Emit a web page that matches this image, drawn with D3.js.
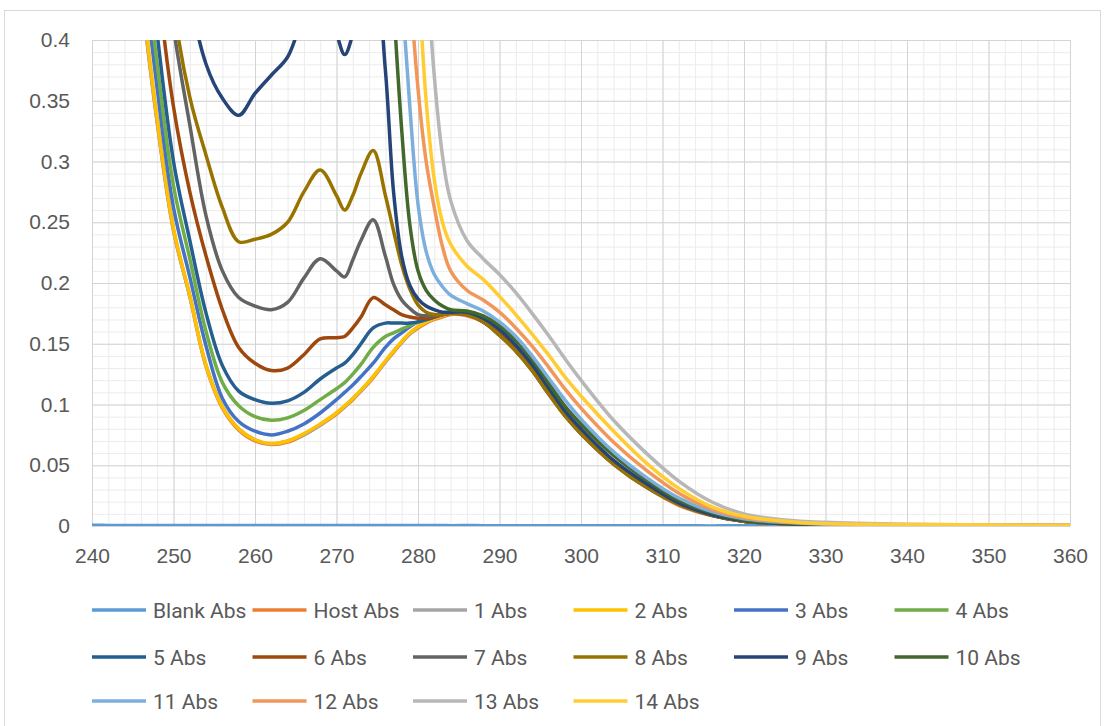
<!DOCTYPE html>
<html>
<head>
<meta charset="utf-8">
<script src="https://cdn.jsdelivr.net/npm/d3@7"></script>
<style>
  html, body { margin: 0; padding: 0; background: #fff; }
  svg { display: block; font-family: Roboto, "Liberation Sans", sans-serif; }
  .tick text { fill: #595959; font-size: 21px; }
</style>
</head>
<body>
<svg id="svg" width="1105" height="726"></svg>
<script>
// wavelengths (nm) shared by every series
const wavelengths = [
  240, 242, 244, 246, 248, 250, 252, 254, 256, 258, 260, 262, 264, 266, 268, 270,
  271, 272, 273, 274.5, 276, 277, 278, 279, 280, 281, 282, 283, 284,
  286, 288, 290, 292, 294, 296, 298, 300,
  304, 308, 312, 316, 320,
  325, 330, 340, 350, 360
];

const blankAbs = [
  0.0006, 0.0005, 0.0005, 0.0004, 0.0005, 0.0004, 0.0004, 0.0005, 0.0004, 0.0004, 0.0005, 0.0004, 0.0004, 0.0005, 0.0004, 0.0004,
  0.0004, 0.0005, 0.0004, 0.0004, 0.0005, 0.0004, 0.0004, 0.0004, 0.0005, 0.0004, 0.0004, 0.0004, 0.0003,
  0.0004, 0.0003, 0.0003, 0.0003, 0.0002, 0.0003, 0.0002, 0.0002,
  0.0002, 0.0002, 0.0002, 0.0001, 0.0002,
  0.0001, 0.0001, 0.0001, 0.0001, 0.0001
];
const hostAbs = [
  1.18, 0.89, 0.61, 0.445, 0.332, 0.243, 0.189, 0.131, 0.097, 0.079, 0.070, 0.067, 0.069, 0.075, 0.083, 0.092,
  0.098, 0.104, 0.111, 0.122, 0.135, 0.143, 0.151, 0.158, 0.163, 0.167, 0.170, 0.172, 0.174,
  0.173, 0.168, 0.157, 0.144, 0.128, 0.109, 0.091, 0.076,
  0.051, 0.032, 0.017, 0.0085, 0.0038,
  0.0018, 0.001, 0.0006, 0.0004, 0.0003
];
const abs1 = [
  1.19, 0.89, 0.62, 0.447, 0.333, 0.244, 0.189, 0.132, 0.098, 0.080, 0.071, 0.0675, 0.070, 0.075, 0.083, 0.093,
  0.098, 0.105, 0.111, 0.123, 0.135, 0.144, 0.151, 0.158, 0.164, 0.168, 0.171, 0.173, 0.175,
  0.174, 0.169, 0.158, 0.145, 0.129, 0.110, 0.092, 0.077,
  0.052, 0.033, 0.018, 0.009, 0.004,
  0.002, 0.001, 0.0006, 0.0004, 0.0003
];
const abs2 = [
  1.20, 0.90, 0.62, 0.45, 0.335, 0.245, 0.190, 0.132, 0.098, 0.080, 0.071, 0.068, 0.070, 0.076, 0.084, 0.093,
  0.099, 0.105, 0.112, 0.123, 0.136, 0.144, 0.152, 0.159, 0.164, 0.168, 0.171, 0.173, 0.175,
  0.174, 0.169, 0.158, 0.145, 0.129, 0.110, 0.092, 0.077,
  0.052, 0.033, 0.018, 0.009, 0.004,
  0.002, 0.001, 0.0006, 0.0004, 0.0003
];
const abs3 = [
  1.25, 0.95, 0.66, 0.48, 0.36, 0.262, 0.205, 0.148, 0.105, 0.086, 0.078, 0.075, 0.078, 0.084, 0.093, 0.104,
  0.110, 0.116, 0.123, 0.134, 0.147, 0.154, 0.159, 0.164, 0.168, 0.170, 0.172, 0.174, 0.175,
  0.1745, 0.169, 0.159, 0.146, 0.130, 0.111, 0.093, 0.078,
  0.053, 0.033, 0.018, 0.009, 0.004,
  0.002, 0.001, 0.0006, 0.0004, 0.0003
];
const abs4 = [
  1.30, 0.98, 0.70, 0.50, 0.38, 0.28, 0.22, 0.160, 0.118, 0.099, 0.090, 0.087, 0.089, 0.095, 0.104, 0.113,
  0.118, 0.125, 0.133, 0.147, 0.156, 0.159, 0.162, 0.165, 0.168, 0.170, 0.172, 0.174, 0.175,
  0.174, 0.169, 0.159, 0.146, 0.130, 0.111, 0.093, 0.078,
  0.053, 0.034, 0.019, 0.009, 0.004,
  0.002, 0.001, 0.0006, 0.0004, 0.0003
];
const abs5 = [
  1.35, 1.02, 0.74, 0.53, 0.405, 0.30, 0.235, 0.175, 0.132, 0.111, 0.104, 0.101, 0.103, 0.110, 0.121, 0.130,
  0.134, 0.141, 0.150, 0.163, 0.167, 0.167, 0.167, 0.167, 0.168, 0.170, 0.172, 0.174, 0.175,
  0.174, 0.169, 0.159, 0.146, 0.130, 0.111, 0.093, 0.078,
  0.053, 0.034, 0.019, 0.009, 0.004,
  0.002, 0.001, 0.0006, 0.0004, 0.0003
];
const abs6 = [
  1.45, 1.10, 0.80, 0.58, 0.45, 0.345, 0.275, 0.222, 0.178, 0.147, 0.134, 0.128, 0.130, 0.141, 0.154, 0.155,
  0.156, 0.163, 0.172, 0.188, 0.182, 0.178, 0.174, 0.172, 0.171, 0.171, 0.172, 0.174, 0.175,
  0.174, 0.168, 0.158, 0.145, 0.129, 0.110, 0.092, 0.077,
  0.052, 0.033, 0.018, 0.009, 0.004,
  0.002, 0.001, 0.0006, 0.0004, 0.0003
];
const abs7 = [
  1.70, 1.30, 0.95, 0.70, 0.52, 0.41, 0.33, 0.255, 0.210, 0.188, 0.181, 0.178, 0.184, 0.204, 0.220, 0.210,
  0.205, 0.219, 0.235, 0.252, 0.222, 0.199, 0.186, 0.179, 0.174, 0.173, 0.173, 0.174, 0.175,
  0.174, 0.168, 0.157, 0.144, 0.128, 0.109, 0.091, 0.076,
  0.051, 0.032, 0.018, 0.009, 0.004,
  0.002, 0.001, 0.0006, 0.0004, 0.0003
];
const abs8 = [
  1.90, 1.50, 1.10, 0.80, 0.60, 0.43, 0.353, 0.305, 0.262, 0.234, 0.236, 0.240, 0.250, 0.275, 0.293, 0.272,
  0.260, 0.272, 0.290, 0.309, 0.272, 0.243, 0.215, 0.195, 0.182, 0.176, 0.174, 0.174, 0.175,
  0.174, 0.168, 0.157, 0.144, 0.128, 0.109, 0.091, 0.076,
  0.051, 0.032, 0.018, 0.009, 0.004,
  0.002, 0.001, 0.0006, 0.0004, 0.0003
];
const abs9 = [
  2.50, 2.00, 1.50, 1.10, 0.80, 0.58, 0.44, 0.38, 0.352, 0.338, 0.356, 0.371, 0.386, 0.42, 0.44, 0.405,
  0.388, 0.405, 0.44, 0.47, 0.375, 0.275, 0.222, 0.198, 0.187, 0.181, 0.178, 0.176, 0.176,
  0.176, 0.171, 0.162, 0.149, 0.133, 0.114, 0.095, 0.080,
  0.054, 0.035, 0.019, 0.0095, 0.0045,
  0.002, 0.0012, 0.0007, 0.0005, 0.0004
];
const abs10 = [
  2.80, 2.30, 1.80, 1.40, 1.10, 0.85, 0.68, 0.58, 0.53, 0.51, 0.53, 0.55, 0.57, 0.60, 0.63, 0.60,
  0.58, 0.60, 0.63, 0.66, 0.55, 0.43, 0.326, 0.248, 0.210, 0.194, 0.186, 0.181, 0.178,
  0.177, 0.173, 0.165, 0.153, 0.137, 0.118, 0.099, 0.084,
  0.058, 0.038, 0.021, 0.011, 0.005,
  0.0025, 0.0013, 0.0008, 0.0005, 0.0004
];
const abs11 = [
  3.00, 2.50, 2.00, 1.60, 1.25, 1.00, 0.82, 0.70, 0.64, 0.62, 0.64, 0.66, 0.69, 0.72, 0.75, 0.72,
  0.70, 0.72, 0.75, 0.78, 0.66, 0.55, 0.44, 0.345, 0.265, 0.226, 0.207, 0.197, 0.190,
  0.183, 0.177, 0.168, 0.156, 0.140, 0.122, 0.104, 0.088,
  0.061, 0.040, 0.023, 0.012, 0.006,
  0.003, 0.0015, 0.0008, 0.0005, 0.0004
];
const abs12 = [
  3.20, 2.70, 2.20, 1.75, 1.40, 1.12, 0.92, 0.80, 0.74, 0.72, 0.74, 0.76, 0.80, 0.84, 0.87, 0.84,
  0.82, 0.84, 0.87, 0.90, 0.80, 0.70, 0.60, 0.45, 0.36, 0.30, 0.262, 0.23, 0.21,
  0.194, 0.186, 0.176, 0.163, 0.148, 0.131, 0.113, 0.097,
  0.069, 0.046, 0.027, 0.014, 0.007,
  0.0035, 0.002, 0.001, 0.0006, 0.0005
];
const abs13 = [
  3.60, 3.10, 2.60, 2.10, 1.70, 1.40, 1.15, 1.00, 0.93, 0.90, 0.92, 0.95, 1.00, 1.05, 1.08, 1.04,
  1.02, 1.04, 1.08, 1.10, 1.00, 0.90, 0.80, 0.70, 0.60, 0.47, 0.37, 0.305, 0.268,
  0.235, 0.220, 0.207, 0.192, 0.175, 0.157, 0.138, 0.120,
  0.087, 0.060, 0.037, 0.020, 0.010,
  0.005, 0.003, 0.0015, 0.001, 0.0008
];
const abs14 = [
  3.40, 2.90, 2.40, 1.95, 1.55, 1.25, 1.03, 0.90, 0.83, 0.80, 0.82, 0.85, 0.90, 0.94, 0.97, 0.94,
  0.92, 0.94, 0.97, 1.00, 0.90, 0.80, 0.70, 0.60, 0.46, 0.35, 0.285, 0.25, 0.232,
  0.214, 0.203, 0.189, 0.174, 0.158, 0.141, 0.123, 0.107,
  0.078, 0.052, 0.031, 0.016, 0.008,
  0.004, 0.002, 0.0012, 0.0008, 0.0006
];

const seriesNames = ['Blank Abs', 'Host Abs', '1 Abs', '2 Abs', '3 Abs', '4 Abs', '5 Abs', '6 Abs',
  '7 Abs', '8 Abs', '9 Abs', '10 Abs', '11 Abs', '12 Abs', '13 Abs', '14 Abs'];
const seriesValues = [blankAbs, hostAbs, abs1, abs2, abs3, abs4, abs5, abs6,
  abs7, abs8, abs9, abs10, abs11, abs12, abs13, abs14];
const seriesColors = ['#5B9BD5', '#ED7D31', '#A5A5A5', '#FFC000', '#4472C4', '#70AD47', '#255E91', '#9E480E',
  '#636363', '#997300', '#264478', '#43682B', '#7CAFDD', '#F1975A', '#B7B7B7', '#FFCD33'];

const xTicks = d3.range(240, 361, 10);
const yTicks = [0, 0.05, 0.1, 0.15, 0.2, 0.25, 0.3, 0.35, 0.4];

const plot = { left: 92, right: 1070, top: 40, bottom: 526 };

const svg = d3.select('#svg');

// outer chart frame
svg.append('rect')
  .attr('x', 4.5).attr('y', 10.5)
  .attr('width', 1096).attr('height', 730)
  .attr('fill', 'none').attr('stroke', '#d9d9d9').attr('stroke-width', 1);

const x = d3.scaleLinear().domain([240, 360]).range([plot.left, plot.right]);
const y = d3.scaleLinear().domain([0, 0.4]).range([plot.bottom, plot.top]);

const h = plot.bottom - plot.top;
const w = plot.right - plot.left;

// minor grid
svg.append('g')
  .attr('transform', 'translate(0,' + plot.bottom + ')')
  .call(d3.axisBottom(x).tickValues(d3.range(240, 361, 2)).tickSize(-h).tickFormat(''))
  .call(g => g.select('.domain').remove())
  .selectAll('line').attr('stroke', '#ececec');
svg.append('g')
  .attr('transform', 'translate(' + plot.left + ',0)')
  .call(d3.axisLeft(y).tickValues(d3.range(0, 41).map(i => i / 100)).tickSize(-w).tickFormat(''))
  .call(g => g.select('.domain').remove())
  .selectAll('line').attr('stroke', '#ececec');

// major grid
svg.append('g')
  .attr('transform', 'translate(0,' + plot.bottom + ')')
  .call(d3.axisBottom(x).tickValues(xTicks).tickSize(-h).tickFormat(''))
  .call(g => g.select('.domain').remove())
  .selectAll('line').attr('stroke', '#d4d4d4');
svg.append('g')
  .attr('transform', 'translate(' + plot.left + ',0)')
  .call(d3.axisLeft(y).tickValues(yTicks).tickSize(-w).tickFormat(''))
  .call(g => g.select('.domain').remove())
  .selectAll('line').attr('stroke', '#d4d4d4');

// axis labels
svg.append('g')
  .attr('transform', 'translate(0,' + plot.bottom + ')')
  .call(d3.axisBottom(x).tickValues(xTicks).tickSize(0).tickPadding(22).tickFormat(d3.format('d')))
  .call(g => g.select('.domain').attr('stroke', '#d4d4d4'));
svg.append('g')
  .attr('transform', 'translate(' + plot.left + ',0)')
  .call(d3.axisLeft(y).tickValues(yTicks).tickSize(0).tickPadding(22).tickFormat(d => String(+d.toFixed(2))))
  .call(g => g.select('.domain').remove());

// series
svg.append('clipPath').attr('id', 'clip')
  .append('rect')
  .attr('x', plot.left).attr('y', plot.top)
  .attr('width', w).attr('height', h);

const line = d3.line()
  .x((d, i) => x(wavelengths[i]))
  .y(d => y(d))
  .curve(d3.curveCatmullRom.alpha(0.5));

svg.append('g').attr('clip-path', 'url(#clip)')
  .selectAll('path')
  .data(seriesValues)
  .enter()
  .append('path')
    .attr('fill', 'none')
    .attr('stroke', (d, i) => seriesColors[i])
    .attr('stroke-width', 3.5)
    .attr('stroke-linejoin', 'round')
    .attr('d', line);

// legend, six columns
const legend = svg.append('g');
const items = legend.selectAll('g')
  .data(seriesNames)
  .enter()
  .append('g')
    .attr('transform', (d, i) => 'translate(' + (92 + (i % 6) * 160.5) + ',' + [610, 657, 701][Math.floor(i / 6)] + ')');
items.append('line')
  .attr('x1', 0).attr('x2', 54)
  .attr('stroke', (d, i) => seriesColors[i])
  .attr('stroke-width', 3.5);
items.append('text')
  .attr('x', 61).attr('dy', '0.36em')
  .attr('fill', '#595959')
  .style('font-size', '21px')
  .text(d => d);
</script>
</body>
</html>
